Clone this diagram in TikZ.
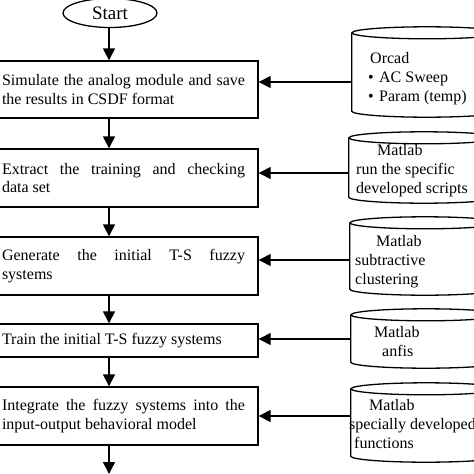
\documentclass[tikz,border=0pt]{standalone}
\usepackage{fontspec}
\setmainfont{Liberation Serif}
\usetikzlibrary{shapes.geometric,arrows.meta}
\tikzset{
  stepbox/.style={draw, line width=1.4pt, rectangle, minimum height=#1,
    text width=243pt, inner xsep=13pt, inner ysep=0pt, align=justify,
    font=\fontsize{16}{18.5}\selectfont},
  cylbody/.style={minimum width=150pt, minimum height=#1, inner sep=0pt},
  cylline/.style={line width=1.3pt},
  cyltext/.style={anchor=base west, inner sep=0pt, font=\fontsize{16}{19}\selectfont},
  arr/.style={line width=1.4pt, -{Triangle[length=12pt,width=12pt]}},
  startnode/.style={draw, ellipse, minimum width=94pt, minimum height=29pt,
    inner sep=0pt, line width=1.3pt, font=\fontsize{19}{22}\selectfont},
}
\newcommand{\cylinderoutline}[1]{%
  \draw[cylline] (#1.north west) -- (#1.south west)
    arc[start angle=180, end angle=360, x radius=75pt, y radius=6pt]
    -- (#1.north east);
  \draw[cylline] (#1.north) ellipse[x radius=75pt, y radius=6pt];
}
\begin{document}
\begin{tikzpicture}[x=1pt,y=-1pt]
\useasboundingbox (0,0) rectangle (474,474);
\clip (0,0) rectangle (474,474);
\fill[white] (0,0) rectangle (474,474);
\coordinate (ax) at (109,0);

% start
\node[startnode] (start) at (110,13) {Start};

% process boxes
\node[stepbox=57pt] (b1) at (123.5,89.5) {Simulate the analog module and save\linebreak the results in CSDF format};
\node[stepbox=58pt] (b2) at (123.5,178) {Extract the training and checking\linebreak data set};
\node[stepbox=58pt] (b3) at (123.5,266) {Generate the initial T-S fuzzy\linebreak systems};
\node[stepbox=33pt] (b4) at (123.5,340.5) {Train the initial T-S fuzzy systems};
\node[stepbox=58pt] (b5) at (123.5,416) {Integrate the fuzzy systems into the\linebreak input-output behavioral model};
\coordinate (fin) at (109,474);

% vertical arrows
\draw[arr] (start.south -| ax) -- (b1.north -| ax);
\draw[arr] (b1.south -| ax) -- (b2.north -| ax);
\draw[arr] (b2.south -| ax) -- (b3.north -| ax);
\draw[arr] (b3.south -| ax) -- (b4.north -| ax);
\draw[arr] (b4.south -| ax) -- (b5.north -| ax);
\draw[arr] (b5.south -| ax) -- (fin);

% cylinders
\node[cylbody=78pt] (c1) at (427,72) {};
\node[cylbody=59pt] (c2) at (424,167.5) {};
\node[cylbody=66pt] (c3) at (425,256) {};
\node[cylbody=47pt] (c4) at (426,338.5) {};
\node[cylbody=67pt] (c5) at (426,422.5) {};
\cylinderoutline{c1}
\cylinderoutline{c2}
\cylinderoutline{c3}
\cylinderoutline{c4}
\cylinderoutline{c5}

% cylinder texts
\node[cyltext] (t1) at (368,63) {\begin{tabular}[t]{@{}l@{}}\hspace{2pt}Orcad\\ \makebox[11pt][l]{\textbullet}AC Sweep\\ \makebox[11pt][l]{\textbullet}Param (temp)\end{tabular}};
\node[cyltext] (t2) at (356,155) {\begin{tabular}[t]{@{}l@{}}\hspace{21pt}Matlab\\ run the specific\\ developed scripts\end{tabular}};
\node[cyltext] (t3) at (355,246) {\begin{tabular}[t]{@{}l@{}}\hspace{21pt}Matlab\\ subtractive\\ clustering\end{tabular}};
\node[cyltext] (t4) at (374,337) {\begin{tabular}[t]{@{}l@{}}Matlab\\ \hspace{8pt}anfis\end{tabular}};
\node[cyltext] (t5) at (349,410) {\begin{tabular}[t]{@{}l@{}}\hspace{20pt}Matlab\\ specially developed\\ \hspace{5pt}functions\end{tabular}};

% horizontal arrows
\draw[arr] ([yshift=-10pt]c1.west) -- ([yshift=-10pt]c1.west -| b1.east);
\draw[arr] ([yshift=-5.5pt]c2.west) -- ([yshift=-5.5pt]c2.west -| b2.east);
\draw[arr] ([yshift=-4pt]c3.west) -- ([yshift=-4pt]c3.west -| b3.east);
\draw[arr] ([yshift=-0.5pt]c4.west) -- ([yshift=-0.5pt]c4.west -| b4.east);
\draw[arr] ([yshift=6.5pt]c5.west) -- ([yshift=6.5pt]c5.west -| b5.east);
\end{tikzpicture}
\end{document}
